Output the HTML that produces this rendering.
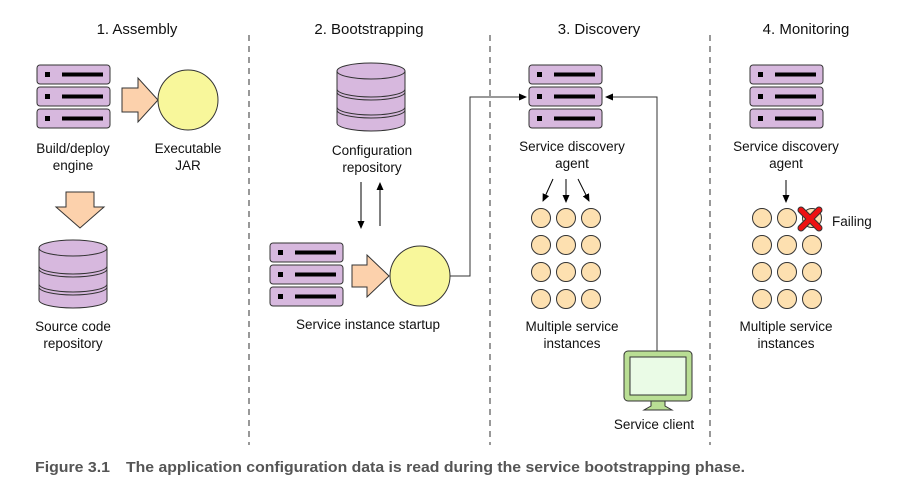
<!DOCTYPE html>
<html><head><meta charset="utf-8"><style>
body{margin:0;background:#fff;width:919px;height:494px;overflow:hidden}
text{font-family:"Liberation Sans",Arial,sans-serif}
</style></head><body>
<svg width="919" height="494" viewBox="0 0 919 494" xmlns="http://www.w3.org/2000/svg">
<defs>
<marker id="ah" markerWidth="8" markerHeight="8" refX="7" refY="4" orient="auto" markerUnits="userSpaceOnUse"><path d="M0,0.5 L8,4 L0,7.5 z" fill="#000"/></marker>
<g id="srv">
 <rect x="0" y="0" width="73" height="19" rx="3" fill="#d7b8de" stroke="#333" stroke-width="1"/>
 <rect x="8" y="7" width="5" height="5" fill="#000"/><rect x="25" y="7.5" width="41" height="4" fill="#000"/>
 <rect x="0" y="22" width="73" height="19" rx="3" fill="#d7b8de" stroke="#333" stroke-width="1"/>
 <rect x="8" y="29" width="5" height="5" fill="#000"/><rect x="25" y="29.5" width="41" height="4" fill="#000"/>
 <rect x="0" y="44" width="73" height="19" rx="3" fill="#d7b8de" stroke="#333" stroke-width="1"/>
 <rect x="8" y="51" width="5" height="5" fill="#000"/><rect x="25" y="51.5" width="41" height="4" fill="#000"/>
</g>
<g id="db">
 <path d="M0,8 L0,60 A34,8 0 0 0 68,60 L68,8" fill="#d7b8de" stroke="#333"/>
 <ellipse cx="34" cy="8" rx="34" ry="8" fill="#d7b8de" stroke="#333"/>
 <path d="M0,26 A34,8 0 0 0 68,26 M0,29 A34,8 0 0 0 68,29 M0,44 A34,8 0 0 0 68,44 M0,47 A34,8 0 0 0 68,47" fill="none" stroke="#333"/>
</g>
<g id="grid" fill="#fde0b0" stroke="#333">
 <circle cx="0" cy="0" r="9.5"/><circle cx="25" cy="0" r="9.5"/><circle cx="50" cy="0" r="9.5"/>
 <circle cx="0" cy="27" r="9.5"/><circle cx="25" cy="27" r="9.5"/><circle cx="50" cy="27" r="9.5"/>
 <circle cx="0" cy="54" r="9.5"/><circle cx="25" cy="54" r="9.5"/><circle cx="50" cy="54" r="9.5"/>
 <circle cx="0" cy="81" r="9.5"/><circle cx="25" cy="81" r="9.5"/><circle cx="50" cy="81" r="9.5"/>
</g>
</defs>
<g stroke="#555" stroke-width="1.2" stroke-dasharray="6,5">
<line x1="249" y1="35" x2="249" y2="445"/><line x1="490" y1="35" x2="490" y2="445"/><line x1="710" y1="35" x2="710" y2="445"/>
</g>
<g font-size="15" text-anchor="middle" fill="#111">
<text x="137" y="34">1. Assembly</text><text x="369" y="34">2. Bootstrapping</text>
<text x="599" y="34">3. Discovery</text><text x="806" y="34">4. Monitoring</text>
</g>
<!-- col1 -->
<use href="#srv" x="37" y="65"/>
<path d="M122,88 L138,88 L138,78 L158,100 L138,122 L138,112 L122,112 z" fill="#fcd1ac" stroke="#333"/>
<circle cx="188" cy="100" r="30" fill="#f8f79b" stroke="#333"/>
<path d="M66,192 L94,192 L94,207 L104,207 L80,228 L56,207 L66,207 z" fill="#fcd1ac" stroke="#333"/>
<use href="#db" x="39" y="240"/>
<g font-size="13.5" text-anchor="middle" fill="#111">
<text x="73" y="153">Build/deploy</text><text x="73" y="170">engine</text>
<text x="188" y="153">Executable</text><text x="188" y="170">JAR</text>
<text x="73" y="331">Source code</text><text x="73" y="348">repository</text>
<text x="372" y="155">Configuration</text><text x="372" y="172">repository</text>
<text x="368" y="329">Service instance startup</text>
<text x="572" y="151">Service discovery</text><text x="572" y="168">agent</text>
<text x="572" y="331">Multiple service</text><text x="572" y="348">instances</text>
<text x="654" y="429">Service client</text>
<text x="786" y="151">Service discovery</text><text x="786" y="168">agent</text>
<text x="786" y="331">Multiple service</text><text x="786" y="348">instances</text>
<text x="832" y="226" text-anchor="start">Failing</text>
</g>
<!-- col2 -->
<use href="#db" x="337" y="63"/>
<line x1="361" y1="182" x2="361" y2="228" stroke="#000" marker-end="url(#ah)"/>
<line x1="380" y1="226" x2="380" y2="183" stroke="#000" marker-end="url(#ah)"/>
<use href="#srv" x="270" y="243"/>
<path d="M352,265 L367,265 L367,255 L389,276 L367,297 L367,287 L352,287 z" fill="#fcd1ac" stroke="#333"/>
<circle cx="420" cy="276" r="30" fill="#f8f79b" stroke="#333"/>
<polyline points="450,276 470,276 470,97 526,97" fill="none" stroke="#333" marker-end="url(#ah)"/>
<!-- col3 -->
<use href="#srv" x="529" y="65"/>
<polyline points="657,352 657,97 606,97" fill="none" stroke="#333" marker-end="url(#ah)"/>
<line x1="553" y1="179" x2="543" y2="201" stroke="#000" marker-end="url(#ah)"/>
<line x1="566" y1="179" x2="566" y2="202" stroke="#000" marker-end="url(#ah)"/>
<line x1="578" y1="179" x2="589" y2="201" stroke="#000" marker-end="url(#ah)"/>
<use href="#grid" x="541" y="218"/>
<rect x="624" y="351" width="68" height="50" rx="4" fill="#b9de94" stroke="#333"/>
<rect x="630" y="357" width="56" height="38" fill="#eafbe6" stroke="#333"/>
<path d="M651,401 L665,401 L665,406 L672,410 L644,410 L651,406 z" fill="#b9de94" stroke="#333"/>
<!-- col4 -->
<use href="#srv" x="750" y="65"/>
<line x1="786" y1="180" x2="786" y2="202" stroke="#000" marker-end="url(#ah)"/>
<use href="#grid" x="762" y="218"/>
<path d="M801,210 L819,228 M819,210 L801,228" stroke="#333" stroke-width="7" stroke-linecap="round"/>
<path d="M801,210 L819,228 M819,210 L801,228" stroke="#e11" stroke-width="5" stroke-linecap="round"/>
<text x="35" y="472" font-size="15" font-weight="bold" fill="#555" textLength="75" lengthAdjust="spacingAndGlyphs">Figure 3.1</text>
<text x="126" y="472" font-size="15" font-weight="bold" fill="#555" textLength="619" lengthAdjust="spacingAndGlyphs">The application configuration data is read during the service bootstrapping phase.</text>
</svg>
</body></html>
